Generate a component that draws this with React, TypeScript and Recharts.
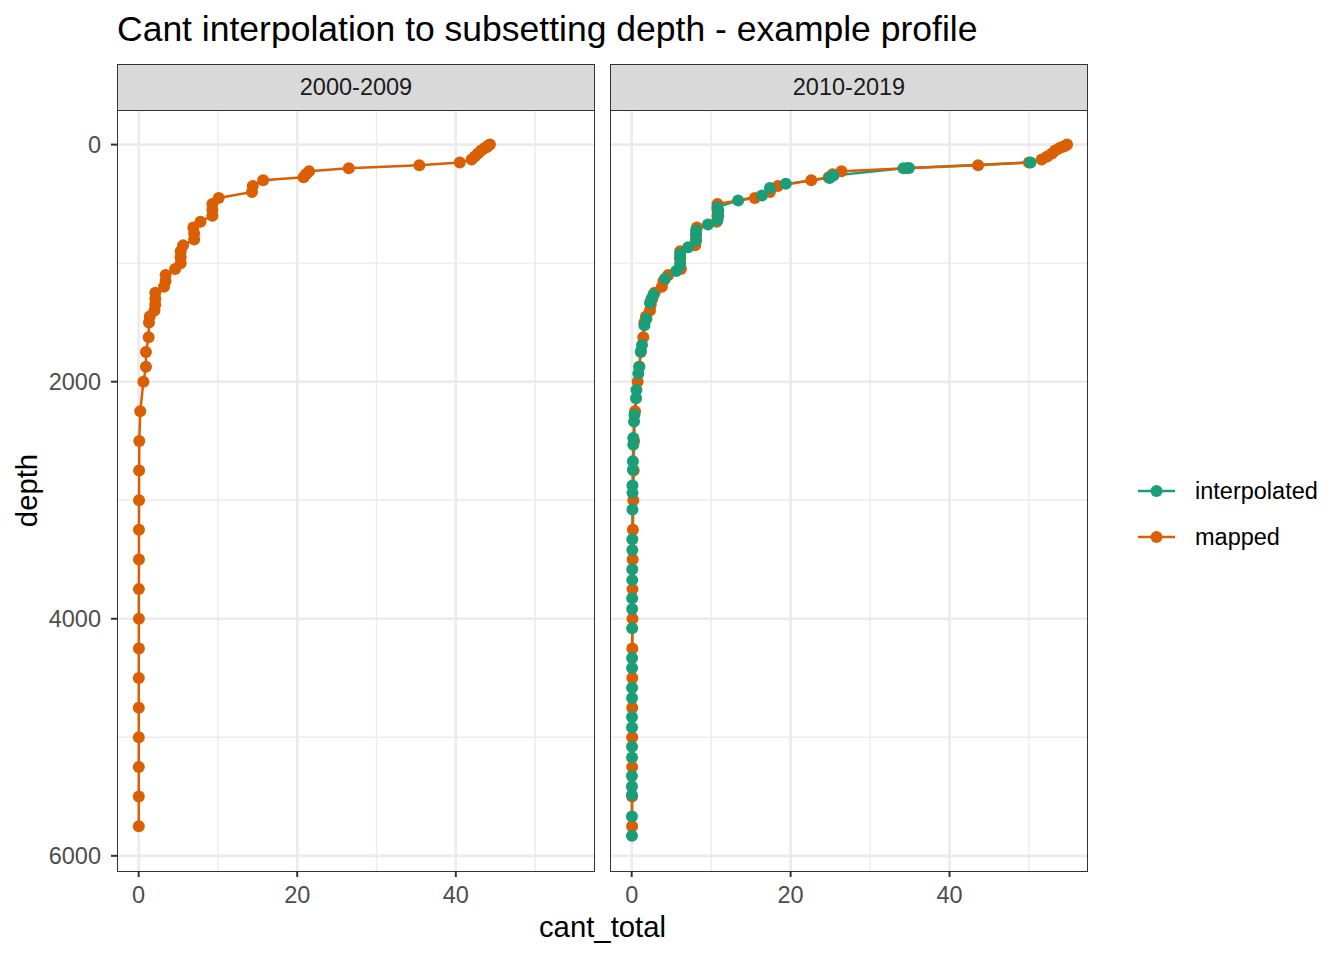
import React from "react";
import {
  ScatterChart,
  Scatter,
  XAxis,
  YAxis,
  CartesianGrid,
} from "recharts";

// standard (mapped) depth levels
const mappedDepths = [
  0, 10, 20, 30, 50, 75, 100, 125, 150, 175, 200, 225, 250, 275, 300, 350, 400,
  450, 500, 550, 600, 650, 700, 750, 800, 850, 900, 950, 1000, 1050, 1100, 1150,
  1200, 1250, 1300, 1350, 1400, 1450, 1500, 1625, 1750, 1875, 2000, 2250, 2500,
  2750, 3000, 3250, 3500, 3750, 4000, 4250, 4500, 4750, 5000, 5250, 5500, 5750,
];

// 2000-2009 mapped cant_total
const cantMapped0009 = [
  44.3, 44.1, 43.9, 43.6, 43.2, 42.8, 42.4, 42.0, 40.5, 35.4, 26.5, 21.5, 21.1,
  20.8, 15.7, 14.4, 14.3, 10.1, 9.3, 9.3, 9.3, 7.8, 6.9, 7.0, 7.0, 5.6, 5.3, 5.3,
  5.3, 4.6, 3.4, 3.4, 3.2, 2.1, 2.1, 2.1, 2.0, 1.4, 1.3, 1.26, 0.92, 0.92, 0.6,
  0.2, 0.08, 0.06, 0.05, 0.04, 0.04, 0.03, 0.03, 0.03, 0.02, 0.02, 0.02, 0.02,
  0.02, 0.02,
];

// 2010-2019 mapped cant_total
const cantMapped1019 = [
  54.8, 54.6, 54.2, 53.8, 53.3, 52.9, 52.3, 51.6, 50.0, 43.6, 34.6, 26.4, 25.3,
  24.8, 22.6, 18.4, 17.4, 15.5, 10.8, 10.8, 10.8, 10.7, 8.2, 8.1, 8.1, 8.0, 6.1,
  6.1, 6.1, 6.2, 4.6, 4.0, 3.8, 2.9, 2.6, 2.4, 2.3, 1.8, 1.6, 1.46, 1.15, 0.95,
  0.75, 0.42, 0.3, 0.25, 0.2, 0.15, 0.12, 0.1, 0.1, 0.08, 0.08, 0.07, 0.06, 0.06,
  0.05, 0.05,
];

// 2010-2019 interpolated (observation depths)
const interpDepths = [
  150, 197, 199, 261, 281, 331, 365, 429, 471, 528, 560, 600, 635, 674, 724, 760,
  808, 865, 920, 960, 1019, 1067, 1131, 1265, 1300, 1335, 1470, 1525, 1690, 1745,
  1875, 1930, 2070, 2140, 2280, 2336, 2476, 2532, 2672, 2742, 2876, 2938, 3078,
  3330, 3420, 3582, 3672, 3828, 3918, 4080, 4332, 4416, 4582, 4668, 4828, 4918,
  5080, 5170, 5326, 5416, 5486, 5668, 5830,
];
const cantInterp1019 = [
  50.2, 34.9, 34.2, 25.4, 24.9, 19.4, 17.4, 16.4, 13.4, 10.8, 10.9, 10.9, 10.8,
  9.6, 8.1, 8.1, 8.1, 7.1, 6.1, 6.1, 6.1, 5.6, 4.2, 2.75, 2.5, 2.3, 1.85, 1.6,
  1.3, 1.15, 0.96, 0.84, 0.6, 0.55, 0.35, 0.3, 0.2, 0.2, 0.15, 0.15, 0.1, 0.1,
  0.1, 0.08, 0.08, 0.07, 0.07, 0.06, 0.06, 0.06, 0.05, 0.05, 0.05, 0.05, 0.04,
  0.04, 0.04, 0.04, 0.03, 0.03, 0.03, 0.03, 0.03,
];

const panelLabels = ["2000-2009", "2010-2019"];
const xTicks = [0, 20, 40];
const xMinor = [10, 30, 50];
const yTicks = [0, 2000, 4000, 6000];
const yMinor = [1000, 3000, 5000];

const GREEN = "#1B9E77";
const ORANGE = "#D95F02";
const FONT = '"Liberation Sans", Arial, Helvetica, sans-serif';

const toRows = (depths: number[], vals: number[]) =>
  depths.map((d, i) => ({ depth: d, cant: vals[i] }));

const dot = (color: string) => (p: any) =>
  <circle cx={p.cx} cy={p.cy} r={6} fill={color} />;
const noDot = () => <g />;

const tickStyle = { fill: "#4D4D4D", fontSize: 23.5, fontFamily: FONT };

function Panel({
  width,
  showY,
  mapped,
  interp,
}: {
  width: number;
  showY: boolean;
  mapped: { depth: number; cant: number }[];
  interp: { depth: number; cant: number }[] | null;
}) {
  return (
    <ScatterChart
      width={width}
      height={811}
      margin={{ top: 0, right: 0, bottom: 0, left: 0 }}
    >
      <CartesianGrid
        stroke="#EBEBEB"
        strokeWidth={1.4}
        verticalValues={xMinor}
        horizontalValues={yMinor}
      />
      <CartesianGrid
        stroke="#EBEBEB"
        strokeWidth={2.6}
        verticalValues={xTicks}
        horizontalValues={yTicks}
      />
      <XAxis
        type="number"
        dataKey="cant"
        domain={[-2.73, 57.43]}
        ticks={xTicks}
        allowDataOverflow
        axisLine={false}
        tickSize={6}
        tickMargin={9}
        tickLine={{ stroke: "#333333", strokeWidth: 2 }}
        tick={tickStyle}
        height={50}
      />
      <YAxis
        type="number"
        dataKey="depth"
        domain={[-292, 6128]}
        reversed
        ticks={yTicks}
        allowDataOverflow
        hide={!showY}
        axisLine={false}
        tickSize={6}
        tickMargin={10}
        tickLine={{ stroke: "#333333", strokeWidth: 2 }}
        tick={tickStyle}
        width={117}
      />
      {interp && (
        <Scatter
          data={interp}
          line={{ stroke: GREEN, strokeWidth: 2.4 }}
          shape={noDot}
          isAnimationActive={false}
        />
      )}
      <Scatter
        data={mapped}
        line={{ stroke: ORANGE, strokeWidth: 2.5 }}
        shape={noDot}
        isAnimationActive={false}
      />
      <Scatter data={mapped} shape={dot(ORANGE)} isAnimationActive={false} />
      {interp && (
        <Scatter data={interp} shape={dot(GREEN)} isAnimationActive={false} />
      )}
    </ScatterChart>
  );
}

export default function App() {
  const left = toRows(mappedDepths, cantMapped0009);
  const rightMapped = toRows(mappedDepths, cantMapped1019);
  const rightInterp = toRows(interpDepths, cantInterp1019);

  const box = (l: number, t: number, w: number, h: number) => ({
    position: "absolute" as const,
    left: l,
    top: t,
    width: w,
    height: h,
  });

  return (
    <div style={{ ...box(0, 0, 1344, 960), background: "#fff", fontFamily: FONT }}>
      <div style={box(0, 110, 594, 811)}>
        <Panel width={594} showY mapped={left} interp={null} />
      </div>
      <div style={box(610, 110, 478, 811)}>
        <Panel width={478} showY={false} mapped={rightMapped} interp={rightInterp} />
      </div>

      {/* panel borders */}
      {[117, 610].map((x) => (
        <div
          key={"b" + x}
          style={{
            ...box(x, 110, 478, 762),
            border: "1.6px solid #333333",
            boxSizing: "border-box",
            pointerEvents: "none",
          }}
        />
      ))}
      {/* strips */}
      {[117, 610].map((x, i) => (
        <div
          key={"s" + x}
          style={{
            ...box(x, 64, 478, 47),
            border: "1.6px solid #333333",
            boxSizing: "border-box",
            background: "#D9D9D9",
            color: "#1A1A1A",
            fontSize: 23.5,
            display: "flex",
            alignItems: "center",
            justifyContent: "center",
          }}
        >
          {panelLabels[i]}
        </div>
      ))}

      <svg
        width={1344}
        height={960}
        style={{ position: "absolute", left: 0, top: 0, pointerEvents: "none" }}
        fontFamily={FONT}
      >
        <text x={117} y={41} fontSize={35.5} fill="#000">
          Cant interpolation to subsetting depth - example profile
        </text>
        <text x={602.5} y={937} fontSize={29.3} fill="#000" textAnchor="middle">
          cant_total
        </text>
        <text
          x={0}
          y={0}
          fontSize={29.3}
          fill="#000"
          textAnchor="middle"
          transform="translate(37,490.5) rotate(-90)"
        >
          depth
        </text>
        {[
          { label: "interpolated", color: GREEN, y: 491 },
          { label: "mapped", color: ORANGE, y: 537 },
        ].map((k) => (
          <g key={k.label}>
            <line x1={1138} x2={1175} y1={k.y} y2={k.y} stroke={k.color} strokeWidth={2.6} />
            <circle cx={1156.5} cy={k.y} r={6} fill={k.color} />
            <text x={1195} y={k.y + 8.4} fontSize={23.5} fill="#000">
              {k.label}
            </text>
          </g>
        ))}
      </svg>
    </div>
  );
}
